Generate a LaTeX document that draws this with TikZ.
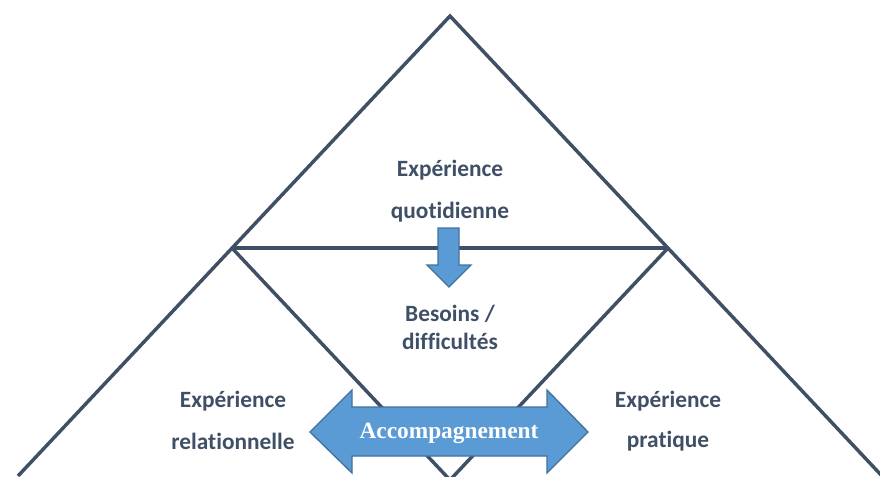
\documentclass[tikz,border=0pt]{standalone}
\usepackage{fontspec}
\setmainfont[Ligatures={NoCommon}]{Carlito}
\newfontfamily\serifbf{Liberation Serif}
\definecolor{ardoise}{HTML}{3F4F66}
\definecolor{bleuflèche}{HTML}{5B9BD5}
\definecolor{bordflèche}{HTML}{41719C}
\begin{document}
\begin{tikzpicture}[x=0.75pt, y=-0.75pt, line join=miter,
    trait/.style={draw=ardoise, line width=2.6pt},
    etiquette/.style={text=ardoise, font=\fontsize{17.5}{20}\selectfont\bfseries, align=center},
    fleche/.style={fill=bleuflèche, draw=bordflèche, line width=1pt}]
    % Cadre de l'image
    \useasboundingbox (0,0) rectangle (880,476);
    \clip (0,0) rectangle (880,476);
    % Sommets des triangles
    \coordinate (S) at (450,16);
    \coordinate (G) at (232,248);
    \coordinate (D) at (668,248);
    \coordinate (B) at (450,480);

    % Grand triangle et triangle central
    \draw[trait] (18,476) -- (S) -- (882,476);
    \draw[trait] (G) -- (D);
    \draw[trait] (G) -- (B) -- (D);

    % Fleche vers le bas
    \filldraw[fleche] (438,228) -- (459,228) -- (459,265) -- (471,265)
        -- (449,287) -- (427,265) -- (438,265) -- cycle;

    % Fleche double du bas
    \filldraw[fleche] (310,432) -- (352,390) -- (352,407) -- (547,407)
        -- (547,390) -- (588,432) -- (547,473) -- (547,456) -- (352,456)
        -- (352,473) -- cycle;

    % Textes
    \node[etiquette] (exp1) at (450,170) {Expérience};
    \node[etiquette] (quot) at (450,212) {quotidienne};
    \node[etiquette] (bes)  at (450,314) {Besoins /};
    \node[etiquette] (diff) at (450,341) {difficultés};
    \node[etiquette] (exp2) at (233,401) {Expérience};
    \node[etiquette] (rel)  at (233,441) {relationnelle};
    \node[etiquette] (exp3) at (668,401) {Expérience};
    \node[etiquette] (prat) at (668,441) {pratique};
    \node[text=white, font=\serifbf\fontsize{17.5}{20}\selectfont\bfseries] (acc) at (449,433) {Accompagnement};
\end{tikzpicture}
\end{document}
